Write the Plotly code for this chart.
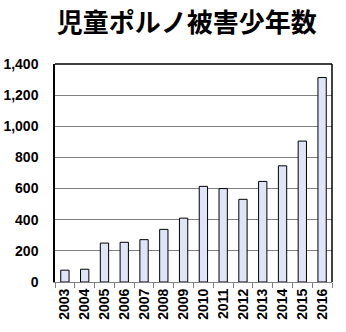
import plotly.graph_objects as go

years = ["2003", "2004", "2005", "2006", "2007", "2008", "2009",
         "2010", "2011", "2012", "2013", "2014", "2015", "2016"]
victims = [76, 82, 250, 255, 272, 338, 410, 614, 600, 531, 646, 746, 905, 1313]
y_ticks = [0, 200, 400, 600, 800, 1000, 1200, 1400]
y_tick_labels = ["0", "200", "400", "600", "800", "1,000", "1,200", "1,400"]

fig = go.Figure()
fig.add_trace(go.Bar(
    x=years, y=victims,
    marker=dict(color="#dfe4f6", line=dict(color="#000000", width=1)),
))

fig.update_layout(
    width=346, height=332,
    margin=dict(l=55, r=14, t=64, b=50),
    paper_bgcolor="white", plot_bgcolor="white",
    showlegend=False,
    bargap=0.58,
    title=dict(
        text="<b>児童ポルノ被害少年数</b>",
        x=0.54, xanchor="center", y=0.93, yanchor="middle",
        font=dict(family="Noto Sans CJK JP", size=26, color="#000000"),
    ),
    font=dict(family="Liberation Sans", color="#000000"),
)
fig.update_xaxes(
    type="category",
    tickangle=-90,
    tickfont=dict(family="Liberation Sans", size=14, weight="bold"),
    ticks="outside", tickson="boundaries", ticklen=5, tickcolor="#808080",
    showline=True, linecolor="#808080", linewidth=1,
    mirror=False, automargin=False,
)
fig.update_yaxes(
    range=[0, 1400],
    tickvals=y_ticks, ticktext=y_tick_labels,
    tickfont=dict(family="Liberation Sans", size=14, weight="bold"),
    showgrid=True, gridcolor="#808080", gridwidth=1,
    showline=True, linecolor="#000000", linewidth=1.5,
    ticks="", ticklabelstandoff=12,
    zeroline=False, automargin=False,
)
# black frame on top and right of the plot area
fig.add_shape(type="line", xref="paper", yref="paper", x0=0, x1=1, y0=1, y1=1,
              line=dict(color="#000000", width=1.5))
fig.add_shape(type="line", xref="paper", yref="paper", x0=1, x1=1, y0=0, y1=1,
              line=dict(color="#000000", width=1.5))

fig.write_html("out.html")
